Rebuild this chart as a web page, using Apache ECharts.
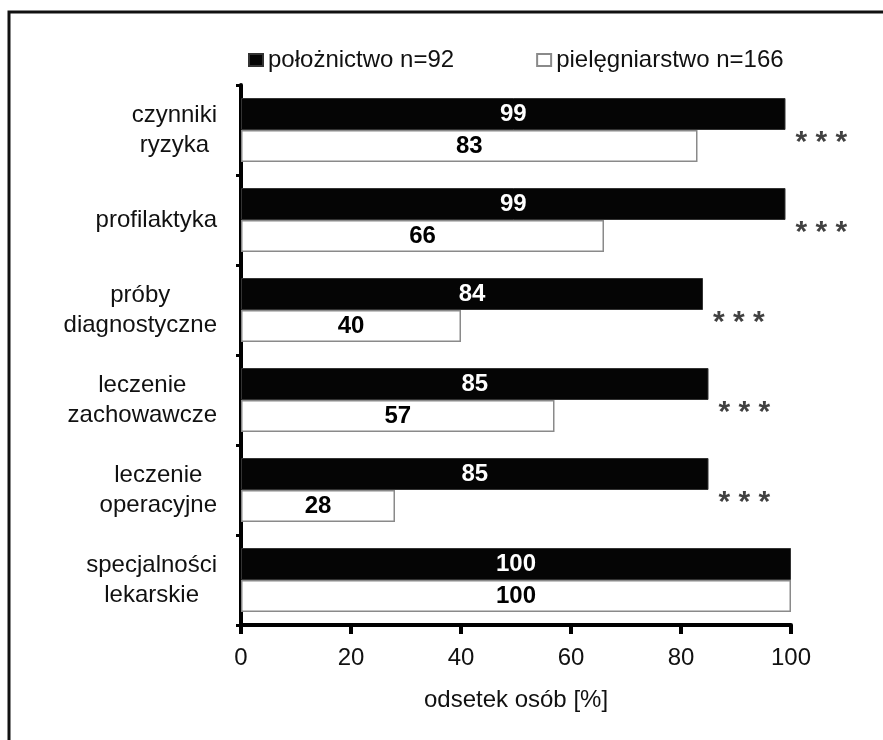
<!DOCTYPE html>
<html>
<head>
<meta charset="utf-8">
<script src="https://cdn.jsdelivr.net/npm/echarts@6/dist/echarts.min.js"></script>
<style>
  html, body { margin: 0; padding: 0; background: #fff; }
  #chart { width: 883px; height: 740px; }
</style>
</head>
<body>
<div id="chart"></div>
<script>
(function () {
    // kategorie (od góry)
    const categories = ['czynniki\nryzyka', 'profilaktyka', 'próby\ndiagnostyczne',
        'leczenie\nzachowawcze', 'leczenie\noperacyjne', 'specjalności\nlekarskie'];
    const poloznictwo = [99, 99, 84, 85, 85, 100];
    const pielegniarstwo = [83, 66, 40, 57, 28, 100];
    const significance = ['* * *', '* * *', '* * *', '* * *', '* * *', ''];
    const xTicks = [0, 20, 40, 60, 80, 100];

    const font = "'Liberation Sans', Arial, sans-serif";
    var myChart = echarts.init(document.getElementById('chart'));

    var option = {
        backgroundColor: '#fff',
        animation: false,
        textStyle: { fontFamily: font },
        graphic: [{
            type: 'polyline',
            shape: { points: [[9, 740], [9, 12], [883, 12]] },
            style: { stroke: '#111', lineWidth: 3, fill: null }
        }],
        legend: {
            top: 43,
            left: 243,
            itemWidth: 14,
            itemHeight: 12,
            itemGap: 82,
            icon: 'rect',
            textStyle: { fontSize: 24, color: '#111', fontFamily: font },
            data: ['położnictwo n=92', 'pielęgniarstwo n=166']
        },
        grid: { left: 241, right: 92, top: 85, bottom: 115, containLabel: false },
        xAxis: {
            type: 'value',
            min: xTicks[0],
            max: xTicks[xTicks.length - 1],
            interval: 20,
            name: 'odsetek osób [%]',
            nameLocation: 'middle',
            nameGap: 63,
            nameTextStyle: { fontSize: 24, color: '#111', fontFamily: font },
            axisLine: { show: true, lineStyle: { color: '#000', width: 4 } },
            axisTick: { show: true, length: 9, lineStyle: { color: '#000', width: 4 } },
            axisLabel: { fontSize: 24, color: '#111', margin: 21, fontFamily: font },
            splitLine: { show: false }
        },
        yAxis: {
            type: 'category',
            inverse: true,
            data: categories,
            axisLine: { show: true, lineStyle: { color: '#000', width: 4 } },
            axisTick: { show: true, length: 5, lineStyle: { color: '#000', width: 3 } },
            axisLabel: {
                align: 'right',
                margin: 24,
                formatter: function (v) {
                    return v.split('\n').map(function (s) { return '{c|' + s + '}'; }).join('\n');
                },
                rich: {
                    c: { align: 'center', fontSize: 24, lineHeight: 30, color: '#111', fontFamily: font }
                }
            }
        },
        series: [
            {
                name: 'położnictwo n=92',
                type: 'bar',
                data: poloznictwo,
                barWidth: 32,
                barGap: '0%',
                itemStyle: { color: '#050505', borderColor: '#333', borderWidth: 1 },
                label: {
                    show: true, position: 'inside', color: '#fff',
                    fontSize: 24, fontWeight: 'bold', fontFamily: font
                }
            },
            {
                name: 'pielęgniarstwo n=166',
                type: 'bar',
                data: pielegniarstwo,
                barWidth: 32,
                barGap: '0%',
                itemStyle: { color: '#fff', borderColor: '#8a8a8a', borderWidth: 1.5 },
                label: {
                    show: true, position: 'inside', color: '#000',
                    fontSize: 24, fontWeight: 'bold', fontFamily: font
                }
            },
            {
                name: 'istotność',
                type: 'scatter',
                symbolSize: 0,
                silent: true,
                data: poloznictwo.map(function (v, i) { return [v, i]; }),
                label: {
                    show: true,
                    position: 'right',
                    distance: 10,
                    offset: [0, 13],
                    fontSize: 30,
                    fontWeight: 'bold',
                    color: '#111',
                    fontFamily: font,
                    formatter: function (p) { return significance[p.dataIndex]; }
                }
            }
        ]
    };
    myChart.setOption(option);
    window.addEventListener('resize', function () {
        myChart.resize();
    });
})();
</script>
</body>
</html>
